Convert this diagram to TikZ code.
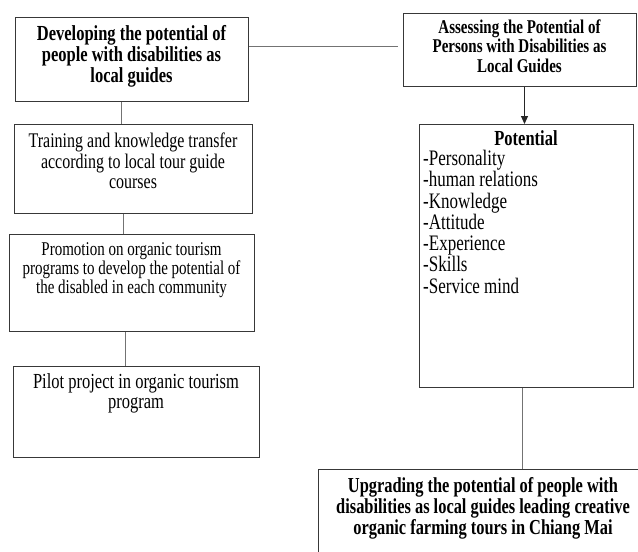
\documentclass[tikz,border=0pt]{standalone}
\usepackage{fontspec}
\setmainfont{Liberation Serif}
\usepackage{graphicx}
\usetikzlibrary{arrows.meta,calc}
\definecolor{boxcol}{gray}{0.22}
\definecolor{linecol}{gray}{0.45}
\newcommand\stxt[4][]{\scalebox{1}[1.3]{\fontsize{#2}{#3}\selectfont#1\begin{tabular}[t]{@{}c@{}}#4\end{tabular}}}
\newcommand\ltxt[4][]{\scalebox{1}[1.3]{\fontsize{#2}{#3}\selectfont#1\begin{tabular}[t]{@{}l@{}}#4\end{tabular}}}
\begin{document}
\begin{tikzpicture}[x=1pt,y=-1pt,
  box/.style={draw=boxcol,line width=1pt,inner sep=0pt,anchor=north west},
  lbl/.style={inner sep=0pt,anchor=base},
  conn/.style={draw=linecol,line width=1pt}]
\useasboundingbox (0,0) rectangle (638,552);
\clip (0,0) rectangle (638,552);
\fill[white] (0,0) rectangle (638,552);
% boxes
\node[box,minimum width=233pt,minimum height=84pt] (A) at (15,17) {};
\node[box,minimum width=233pt,minimum height=73pt] (B) at (403,13) {};
\node[box,minimum width=238pt,minimum height=89pt] (C) at (14,124) {};
\node[box,minimum width=245pt,minimum height=97pt] (D) at (9,234) {};
\node[box,minimum width=246pt,minimum height=91pt] (E) at (13,366) {};
\node[box,minimum width=214pt,minimum height=263pt] (P) at (419,124) {};
\node[box,minimum width=330pt,minimum height=110pt] (U) at (318,469) {};
% texts
\node[lbl] (At) at (131.5,40) {\stxt[\bfseries]{16.5}{16.2}{Developing the potential of\\people with disabilities as\\local guides}};
\node[lbl] (Bt) at (519.5,33) {\stxt[\bfseries]{15}{15}{Assessing the Potential of\\Persons with Disabilities as\\Local Guides}};
\node[lbl] (Ct) at (133,147.5) {\stxt{16}{15.8}{Training and knowledge transfer\\according to local tour guide\\courses}};
\node[lbl] (Dt) at (131.5,255) {\stxt{15}{14.6}{Promotion on organic tourism\\programs to develop the potential of\\the disabled in each community}};
\node[lbl] (Et) at (136,388) {\stxt{16.5}{15.8}{Pilot project in organic tourism\\program}};
\node[lbl] (Ph) at (526,145) {\stxt[\bfseries]{16.5}{15.9}{Potential}};
\node[lbl,anchor=base west] (Pl) at (423,165) {\ltxt{17}{15.9}{-Personality\\-human relations\\-Knowledge\\-Attitude\\-Experience\\-Skills\\-Service mind}};
\node[lbl] (Ut) at (483,492) {\stxt[\bfseries]{16.4}{16.2}{Upgrading the potential of people with\\disabilities as local guides leading creative\\organic farming tours in Chiang Mai}};
% connectors
\coordinate (ab) at ($(A.north east)+(0,29.5)$);
\draw[conn,shorten >=5pt] (ab) -- (ab -| B.west);
\draw[conn] ([xshift=-10.5pt]A.south) -- ([xshift=-10.5pt]A.south |- C.north);
\draw[conn] ([xshift=-10pt]C.south) -- ([xshift=-10pt]C.south |- D.north);
\draw[conn] ([xshift=-6.5pt]D.south) -- ([xshift=-6.5pt]D.south |- E.north);
\draw[draw=black!85,line width=1pt,-{Triangle[length=8pt,width=7pt]}] ([xshift=4.5pt]B.south) -- ([xshift=4.5pt]B.south |- P.north);
\draw[conn] ([xshift=-4pt]P.south) -- ([xshift=-4pt]P.south |- U.north);
\end{tikzpicture}
\end{document}
